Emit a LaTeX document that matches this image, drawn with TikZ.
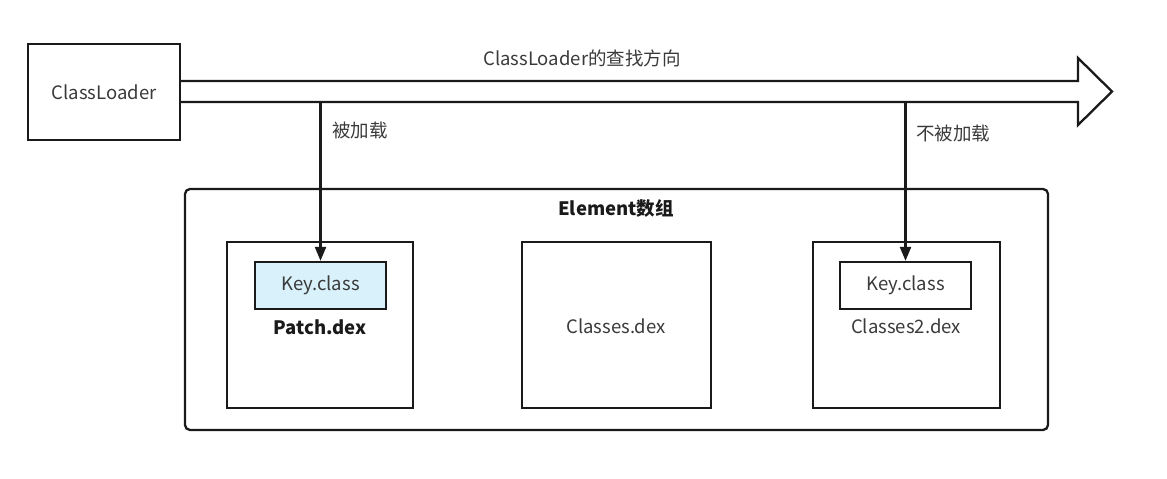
\documentclass[tikz,border=0pt]{standalone}
\usepackage{fontspec}
\setmainfont{Noto Sans CJK SC}
\usetikzlibrary{arrows.meta}
\definecolor{linec}{HTML}{1A1A1A}
\definecolor{textc}{HTML}{3A3A3A}
\definecolor{keyfill}{HTML}{D8F1FB}
\begin{document}
\begin{tikzpicture}[x=1pt,y=-1pt,
  box/.style={draw=linec, line width=2.3pt, rectangle, inner sep=0pt},
  lbl/.style={text=textc, font=\fontsize{18.5}{22}\selectfont, inner sep=0pt},
  conn/.style={draw=linec, line width=2.3pt, -{Triangle[length=14pt,width=11pt]}}]
\useasboundingbox (0,0) rectangle (1167,479);
% nodes
\node[box, minimum width=152pt, minimum height=96pt, lbl] (cl) at (104,92) {ClassLoader};
\node[box, rounded corners=5pt, minimum width=863pt, minimum height=241pt] (elem) at (616.5,309.5) {};
\node[lbl, font=\fontsize{18.5}{22}\selectfont\bfseries, text=linec] (elemt) at (616,208) {Element数组};
\node[box, minimum width=186pt, minimum height=166pt] (patch) at (320,325) {};
\node[box, minimum width=131pt, minimum height=47pt, fill=keyfill, lbl] (keya) at (320.5,285.5) {Key.class};
\node[lbl, font=\fontsize{18.5}{22}\selectfont\bfseries, text=linec] (patcht) at (320,327) {Patch.dex};
\node[box, minimum width=189pt, minimum height=166pt] (cls) at (616.5,325) {};
\node[lbl] (clst) at (616,326) {Classes.dex};
\node[box, minimum width=187pt, minimum height=166pt] (cls2) at (906.5,325) {};
\node[box, minimum width=131pt, minimum height=47pt, lbl] (keyb) at (905.5,285.5) {Key.class};
\node[lbl] (cls2t) at (906,326) {Classes2.dex};
% big direction arrow
\coordinate (tip) at (1112,91.5);
\draw[linec, line width=2.3pt, line join=miter]
  (cl.east |- 0,81) -- (1078,81) -- (1078,58) -- (tip) -- (1078,125) -- (1078,102) -- (cl.east |- 0,102);
\node[lbl] (dir) at (582,58) {ClassLoader的查找方向};
% down arrows
\coordinate (s1) at (320.5,102);
\coordinate (s2) at (905.5,102);
\draw[conn] (s1) -- (keya.north);
\draw[conn] (s2) -- (keyb.north);
\node[lbl] (l1) at (360,130) {被加载};
\node[lbl] (l2) at (953,133) {不被加载};
\end{tikzpicture}
\end{document}
